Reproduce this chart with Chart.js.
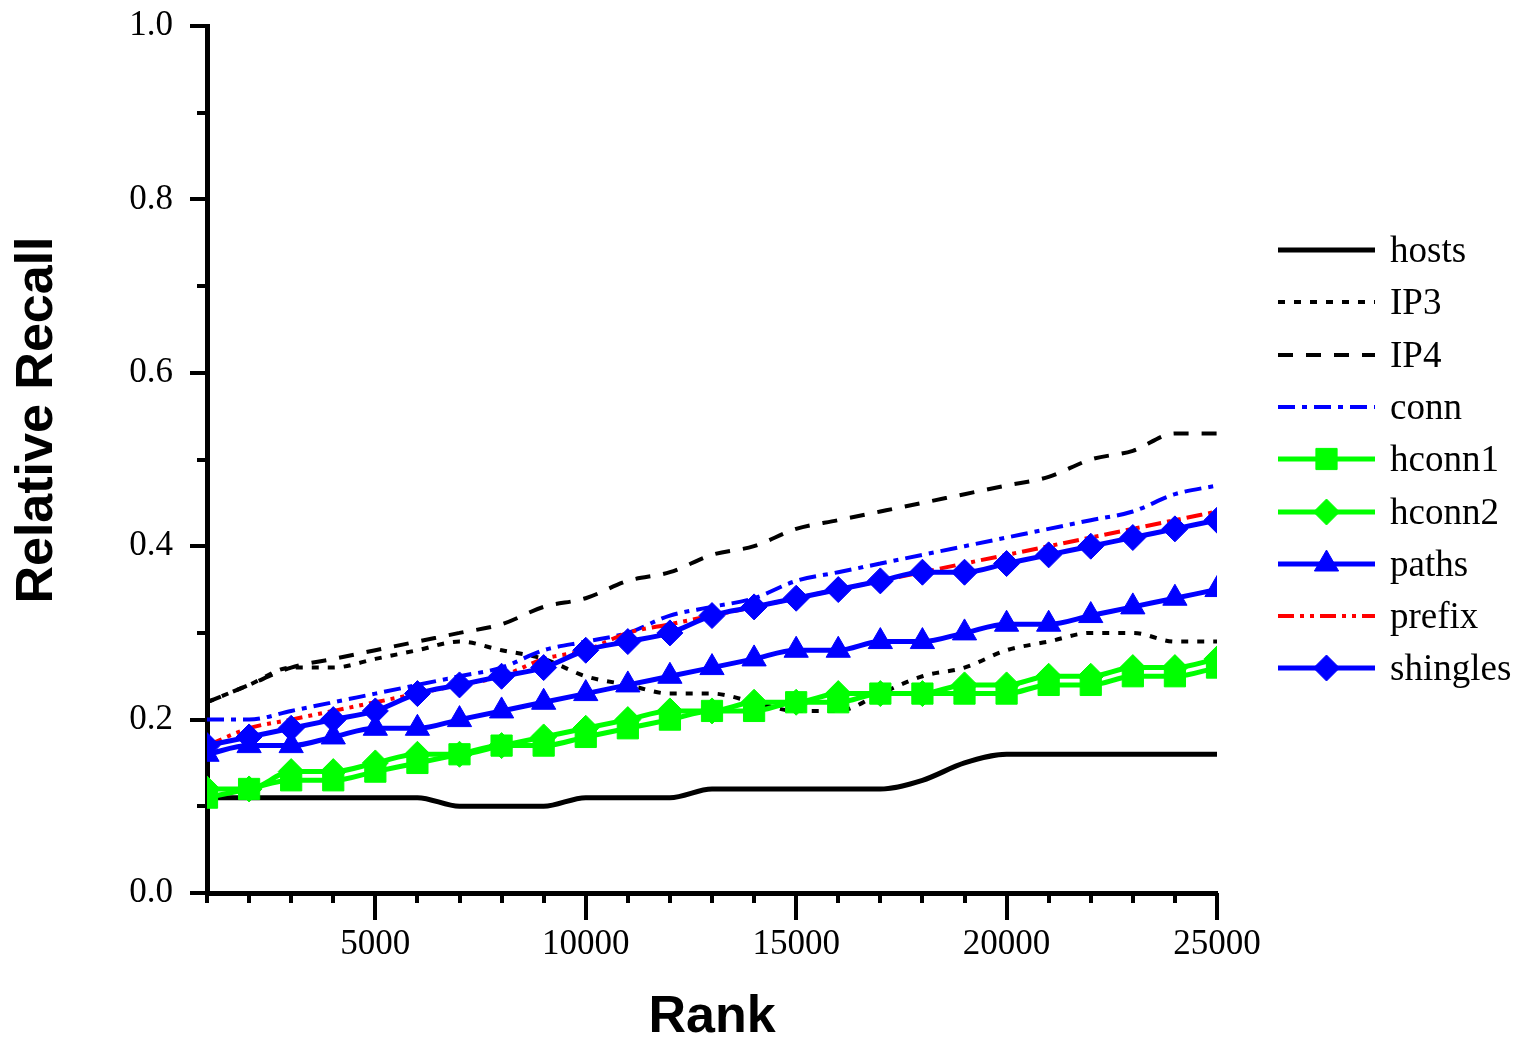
<!DOCTYPE html>
<html lang="en">
<head>
  <meta charset="UTF-8">
  <title>Relative Recall by Rank</title>
  <script src="https://cdn.jsdelivr.net/npm/chart.js"></script>
  <style>
    html, body { margin: 0; padding: 0; background: #fff; }
    #wrap { width: 1520px; height: 1038px; position: relative; }
  </style>
</head>
<body>
  <div id="wrap"><canvas id="recallChart"></canvas></div>

  <script>
    const ranks = [1000, 2000, 3000, 4000, 5000, 6000, 7000, 8000, 9000, 10000, 11000, 12000, 13000,
                   14000, 15000, 16000, 17000, 18000, 19000, 20000, 21000, 22000, 23000, 24000, 25000];

    const hosts    = [0.11, 0.11, 0.11, 0.11, 0.11, 0.11, 0.10, 0.10, 0.10, 0.11, 0.11, 0.11, 0.12,
                      0.12, 0.12, 0.12, 0.12, 0.13, 0.15, 0.16, 0.16, 0.16, 0.16, 0.16, 0.16];
    const ip3      = [0.22, 0.24, 0.26, 0.26, 0.27, 0.28, 0.29, 0.28, 0.27, 0.25, 0.24, 0.23, 0.23,
                      0.22, 0.21, 0.21, 0.23, 0.25, 0.26, 0.28, 0.29, 0.30, 0.30, 0.29, 0.29];
    const ip4      = [0.22, 0.24, 0.26, 0.27, 0.28, 0.29, 0.30, 0.31, 0.33, 0.34, 0.36, 0.37, 0.39,
                      0.40, 0.42, 0.43, 0.44, 0.45, 0.46, 0.47, 0.48, 0.50, 0.51, 0.53, 0.53];
    const conn     = [0.20, 0.20, 0.21, 0.22, 0.23, 0.24, 0.25, 0.26, 0.28, 0.29, 0.30, 0.32, 0.33,
                      0.34, 0.36, 0.37, 0.38, 0.39, 0.40, 0.41, 0.42, 0.43, 0.44, 0.46, 0.47];
    const hconn1   = [0.11, 0.12, 0.13, 0.13, 0.14, 0.15, 0.16, 0.17, 0.17, 0.18, 0.19, 0.20, 0.21,
                      0.21, 0.22, 0.22, 0.23, 0.23, 0.23, 0.23, 0.24, 0.24, 0.25, 0.25, 0.26];
    const hconn2   = [0.12, 0.12, 0.14, 0.14, 0.15, 0.16, 0.16, 0.17, 0.18, 0.19, 0.20, 0.21, 0.21,
                      0.22, 0.22, 0.23, 0.23, 0.23, 0.24, 0.24, 0.25, 0.25, 0.26, 0.26, 0.27];
    const paths    = [0.16, 0.17, 0.17, 0.18, 0.19, 0.19, 0.20, 0.21, 0.22, 0.23, 0.24, 0.25, 0.26,
                      0.27, 0.28, 0.28, 0.29, 0.29, 0.30, 0.31, 0.31, 0.32, 0.33, 0.34, 0.35];
    const prefix   = [0.17, 0.19, 0.20, 0.21, 0.22, 0.23, 0.24, 0.25, 0.27, 0.28, 0.30, 0.31, 0.32,
                      0.33, 0.34, 0.35, 0.36, 0.37, 0.38, 0.39, 0.40, 0.41, 0.42, 0.43, 0.44];
    const shingles = [0.17, 0.18, 0.19, 0.20, 0.21, 0.23, 0.24, 0.25, 0.26, 0.28, 0.29, 0.30, 0.32,
                      0.33, 0.34, 0.35, 0.36, 0.37, 0.37, 0.38, 0.39, 0.40, 0.41, 0.42, 0.43];

    const seriesNames = ['hosts', 'IP3', 'IP4', 'conn', 'hconn1', 'hconn2', 'paths', 'prefix', 'shingles'];
    const seriesValues = [hosts, ip3, ip4, conn, hconn1, hconn2, paths, prefix, shingles];

    // line look per series (same order as seriesNames)
    const looks = [
      { color: '#000000', dash: [],                     point: false,      order: 5, w: 5 },
      { color: '#000000', dash: [7, 9],                 point: false,      order: 8, w: 4 },
      { color: '#000000', dash: [15, 13],               point: false,      order: 9, w: 4 },
      { color: '#0000ff', dash: [17, 7, 5, 7],          point: false,      order: 7, w: 4 },
      { color: '#00ff00', dash: [],                     point: 'rect',     order: 3, w: 5, r: 15 },
      { color: '#00ff00', dash: [],                     point: 'rectRot',  order: 4, w: 5, r: 13 },
      { color: '#0000ff', dash: [],                     point: 'triangle', order: 2, w: 5, r: 14 },
      { color: '#ff0000', dash: [16, 6, 4, 6, 4, 6],    point: false,      order: 6, w: 4 },
      { color: '#0000ff', dash: [],                     point: 'rectRot',  order: 1, w: 5, r: 13 }
    ];

    const datasets = seriesNames.map((name, i) => {
      const lk = looks[i];
      return {
        label: name,
        data: ranks.map((r, j) => ({ x: r, y: seriesValues[i][j] })),
        borderColor: lk.color,
        backgroundColor: lk.color,
        borderWidth: lk.w,
        borderDash: lk.dash,
        pointStyle: lk.point || 'circle',
        pointRadius: lk.point ? lk.r : 0,
        pointBackgroundColor: lk.color,
        pointBorderColor: lk.color,
        pointBorderWidth: 1,
        cubicInterpolationMode: 'monotone',
        fill: false,
        order: lk.order
      };
    });

    const serif = '"Liberation Serif", "DejaVu Serif", serif';
    const sans = '"Liberation Sans", Arial, sans-serif';

    // axis tick marks: long ones on labelled values, short ones between
    const tickMarks = {
      id: 'tickMarks',
      afterDraw(chart) {
        const ctx = chart.ctx;
        const xs = chart.scales.x, ys = chart.scales.y;
        ctx.save();
        ctx.strokeStyle = '#000';
        ctx.lineWidth = 4;
        ctx.beginPath();
        xs.ticks.forEach(t => {
          const px = Math.round(xs.getPixelForValue(t.value));
          const len = t.value % 5000 === 0 ? 27 : 10;
          ctx.moveTo(px, xs.top);
          ctx.lineTo(px, xs.top + len);
        });
        ys.ticks.forEach((t, i) => {
          const py = Math.round(ys.getPixelForValue(t.value));
          const len = i % 2 === 0 ? 17 : 10;
          ctx.moveTo(ys.right, py);
          ctx.lineTo(ys.right - len, py);
        });
        ctx.stroke();

        // y axis title, sits a bit above the middle like the original
        ctx.font = 'bold 52px ' + sans;
        ctx.fillStyle = '#000';
        ctx.textAlign = 'center';
        ctx.textBaseline = 'middle';
        ctx.translate(38, 420);
        ctx.rotate(-Math.PI / 2);
        ctx.fillText('Relative Recall', 0, 0);
        ctx.restore();
      }
    };

    const sideLegend = {
      id: 'sideLegend',
      afterDraw(chart) {
        const ctx = chart.ctx;
        const x0 = 1278, x1 = 1375, top = 250, step = 52.3;
        chart.data.datasets.forEach((ds, i) => {
          const y = Math.round(top + i * step);
          ctx.save();
          ctx.strokeStyle = ds.borderColor;
          ctx.lineWidth = ds.borderWidth;
          ctx.setLineDash(ds.borderDash);
          ctx.beginPath();
          ctx.moveTo(x0, y);
          ctx.lineTo(x1, y);
          ctx.stroke();
          ctx.setLineDash([]);
          if (ds.pointRadius > 0) {
            ctx.fillStyle = ds.pointBackgroundColor;
            ctx.strokeStyle = ds.pointBorderColor;
            ctx.lineWidth = 1;
            Chart.helpers.drawPoint(ctx, { pointStyle: ds.pointStyle, radius: ds.pointRadius, borderWidth: 1 }, (x0 + x1) / 2, y);
          }
          ctx.fillStyle = '#000';
          ctx.font = '37px ' + serif;
          ctx.textAlign = 'left';
          ctx.textBaseline = 'middle';
          ctx.fillText(ds.label, 1390, y + 2);
          ctx.restore();
        });
      }
    };

    new Chart(document.getElementById('recallChart'), {
      type: 'line',
      data: { datasets: datasets },
      plugins: [tickMarks, sideLegend],
      options: {
        responsive: true,
        maintainAspectRatio: false,
        animation: false,
        layout: { padding: { top: 0, right: 303, left: 0, bottom: 0 } },
        plugins: { legend: { display: false }, tooltip: { enabled: false } },
        scales: {
          x: {
            type: 'linear',
            min: 1000,
            max: 25000,
            afterFit: s => { s.height = 145; },
            grid: { display: false, drawTicks: false },
            border: { display: true, color: '#000', width: 5 },
            ticks: {
              stepSize: 1000,
              autoSkip: false,
              maxRotation: 0,
              padding: 31,
              color: '#000',
              font: { family: serif, size: 35 },
              callback: v => (v % 5000 === 0 ? String(v) : '')
            },
            title: {
              display: true,
              text: 'Rank',
              color: '#000',
              font: { family: sans, size: 52, weight: 'bold', lineHeight: 1 },
              padding: { top: 0, bottom: -6 }
            }
          },
          y: {
            min: 0,
            max: 1,
            afterFit: s => { s.width = 207; s.paddingTop = 26; s.paddingBottom = 0; },
            grid: { display: false, drawTicks: false },
            border: { display: true, color: '#000', width: 5 },
            ticks: {
              stepSize: 0.1,
              autoSkip: false,
              padding: 34,
              color: '#000',
              font: { family: serif, size: 35 },
              callback: (v, i) => (i % 2 === 0 ? v.toFixed(1) : '')
            }
          }
        }
      }
    });
  </script>
</body>
</html>
